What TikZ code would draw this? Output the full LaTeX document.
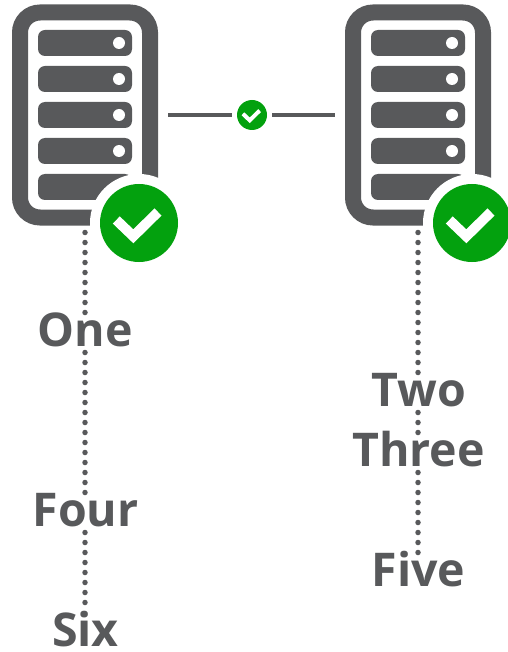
\documentclass[tikz,border=0pt]{standalone}
\usepackage{fontspec}
\setmainfont{Open Sans}
\definecolor{srvgray}{HTML}{58595B}
\definecolor{okgreen}{HTML}{03A10E}
\tikzset{
  server/.style={draw=srvgray,line width=16pt,fill=white,rounded corners=20pt,minimum width=130pt,minimum height=205pt,inner sep=0pt},
  slot/.style={fill=srvgray,rounded corners=7pt,minimum width=94pt,minimum height=26pt,inner sep=0pt},
  led/.style={circle,fill=white,minimum size=12pt,inner sep=0pt},
  badge/.style={circle,fill=okgreen,inner sep=0pt},
  tag/.style={fill=white,text=srvgray,font=\fontsize{46.5}{46.5}\selectfont\bfseries,inner ysep=0pt,inner xsep=1pt,text height=30pt,text depth=0pt},
  link/.style={srvgray,line width=3.5pt},
  trail/.style={srvgray,line width=5.5pt,line cap=round,dash pattern=on 0pt off 10pt,dash phase=3pt}
}
\newcommand{\tick}[2]{% badge name, scale
  \draw[white,line width=#2*10pt] ([shift={(-22.7*#2,-3*#2)}]#1.center) -- ([shift={(-5.7*#2,13.3*#2)}]#1.center) -- ([shift={(19*#2,-11*#2)}]#1.center);
}
\begin{document}
\begin{tikzpicture}[x=1pt,y=-1pt]
\useasboundingbox (0,0) rectangle (507,652);
% servers
\foreach \name/\xpos in {srvA/85,srvB/418} {
  \node[server] (\name) at (\xpos,115) {};
  \foreach \row [count=\i] in {43,79,115,151,187} {
    \node[slot] (\name slot\i) at (\xpos,\row) {};
    \node[led] (\name led\i) at (\xpos+34,\row) {};
  }
}
% dotted lines
\coordinate (endA) at (85,605);
\coordinate (endB) at (418,556);
\draw[trail] (srvA.south) -- (endA);
\draw[trail] (srvB.south) -- (endB);
% badges
\foreach \name/\xpos in {okA/139,okB/472} {
  \node[circle,fill=white,minimum size=98pt,inner sep=0pt] (\name halo) at (\xpos,223) {};
  \node[badge,minimum size=78pt] (\name) at (\xpos,223) {};
  \tick{\name}{1}
}
% link
\node[badge,minimum size=30pt] (okC) at (252,115) {};
\tick{okC}{0.4}
\draw[link,shorten <=10pt,shorten >=5pt] (srvA.east) -- (okC.west);
\draw[link,shorten <=5pt,shorten >=10pt] (okC.east) -- (srvB.west);
% labels
\node[tag] (one) at (85.5,331) {One};
\node[tag] (four) at (85.5,511) {Four};
\node[tag] (six) at (85.5,631) {Six};
\node[tag] (two) at (418.5,391) {Two};
\node[tag] (three) at (418.5,451) {Three};
\node[tag] (five) at (418.5,571) {Five};
\end{tikzpicture}
\end{document}
